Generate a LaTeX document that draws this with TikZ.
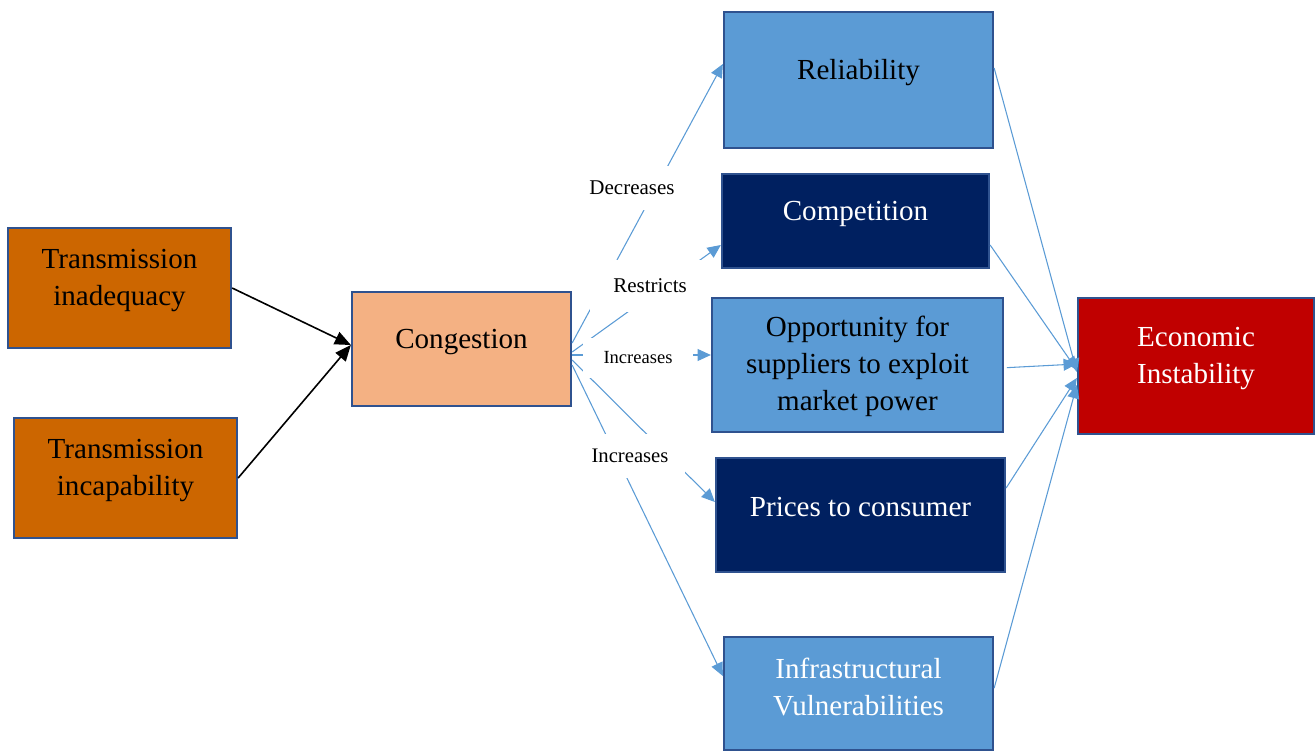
\documentclass[tikz,border=0pt]{standalone}
\usepackage{fontspec}
\setmainfont{Liberation Serif}
\usetikzlibrary{arrows.meta}
\definecolor{bord}{HTML}{2F528F}
\definecolor{orangebox}{HTML}{CC6600}
\definecolor{peach}{HTML}{F4B183}
\definecolor{lblue}{HTML}{5B9BD5}
\definecolor{navy}{HTML}{002060}
\definecolor{redbox}{HTML}{C00000}
\begin{document}
\begin{tikzpicture}[x=0.75pt,y=-0.75pt,
 box/.style={draw=bord,line width=1.7pt,inner sep=0pt,rectangle},
 txt/.style={font=\fontsize{21.8}{27.75}\selectfont,align=center,inner sep=0pt},
 lbl/.style={fill=white,inner sep=0pt,text=black},
 conn/.style={draw=lblue,line width=0.8pt,-{Triangle[length=10pt,width=9pt]}},
 blk/.style={draw=black,line width=1.2pt,-{Triangle[length=12pt,width=10pt]}}]
\useasboundingbox (0,0) rectangle (1316,752);

% boxes
\node[box,fill=orangebox,minimum width=167.25pt,minimum height=90pt] (inad) at (119.5,288) {};
\node[box,fill=orangebox,minimum width=167.25pt,minimum height=90pt] (incap) at (125.5,478) {};
\node[box,fill=peach,minimum width=164.25pt,minimum height=85.5pt] (cong) at (461.5,349) {};
\node[box,fill=lblue,minimum width=201.75pt,minimum height=102pt] (rel) at (858.5,80) {};
\node[box,fill=navy,minimum width=200.25pt,minimum height=70.5pt] (comp) at (855.5,221) {};
\node[box,fill=lblue,minimum width=218.25pt,minimum height=100.5pt] (opp) at (857.5,365) {};
\node[box,fill=navy,minimum width=216.75pt,minimum height=85.5pt] (price) at (860.5,515) {};
\node[box,fill=lblue,minimum width=201.75pt,minimum height=84.75pt] (infra) at (858.5,693.5) {};
\node[box,fill=redbox,minimum width=177pt,minimum height=102pt] (econ) at (1196,366) {};

% texts
\node[txt] (tinad) at ([yshift=5.25pt]inad.center) {Transmission\\inadequacy};
\node[txt] (tincap) at ([yshift=5.25pt]incap.center) {Transmission\\incapability};
\node[txt] (tcong) at ([yshift=5.25pt]cong.center) {Congestion};
\node[txt] (trel) at ([yshift=5.25pt]rel.center) {Reliability};
\node[txt,text=white] (tcomp) at ([yshift=5.25pt]comp.center) {Competition};
\node[txt] (topp) at ([yshift=-1pt]opp.center) {Opportunity for\\suppliers to exploit\\market power};
\node[txt,text=white] (tprice) at ([yshift=6pt]price.center) {Prices to consumer};
\node[txt,text=white] (tinfra) at ([yshift=5.25pt]infra.center) {Infrastructural\\Vulnerabilities};
\node[txt,text=white] (tecon) at ([yshift=5.25pt]econ.center) {Economic\\Instability};

% black arrows
\draw[blk] (inad.east) -- ([yshift=3pt]cong.west);
\draw[blk] (incap.east) -- ([yshift=3pt]cong.west);

% congestion to effects
\draw[conn] ([yshift=4.5pt]cong.east) -- ([yshift=12pt]rel.west);
\draw[conn] ([yshift=-2.25pt]cong.east) -- ([yshift=-18pt]comp.west);
\draw[conn] ([yshift=-4.5pt]cong.east) -- ([yshift=7.5pt]opp.west);
\draw[conn] ([yshift=-8.25pt]cong.east) -- ([yshift=9.75pt]price.west);
\draw[conn] ([yshift=-12pt]cong.east) -- ([yshift=13.1pt]infra.west);

% effects to economic instability
\draw[conn] ([yshift=9pt]rel.east) -- ([yshift=-4.5pt]econ.west);
\draw[conn] ([yshift=-18pt]comp.east) -- ([yshift=-3pt]econ.west);
\draw[conn] ([xshift=2pt,yshift=-2pt]opp.east) -- ([yshift=1.5pt]econ.west);
\draw[conn] ([yshift=20.25pt]price.east) -- ([yshift=-9pt]econ.west);
\draw[conn] ([yshift=4pt]infra.east) -- ([yshift=-14.25pt]econ.west);

% labels
\node[lbl,font=\fontsize{15.75}{18}\selectfont,minimum width=67.5pt,minimum height=33pt] (ldec) at (632,188) {Decreases};
\node[lbl,font=\fontsize{15.75}{18}\selectfont,minimum width=90pt,minimum height=39pt] (lres) at (650,286) {Restricts};
\node[lbl,font=\fontsize{13.9}{16}\selectfont,minimum width=82.5pt,minimum height=30pt] (linc1) at (638,358) {Increases};
\node[lbl,font=\fontsize{15.5}{18}\selectfont,minimum width=82.5pt,minimum height=33pt] (linc2) at (630,456) {Increases};
\end{tikzpicture}
\end{document}
